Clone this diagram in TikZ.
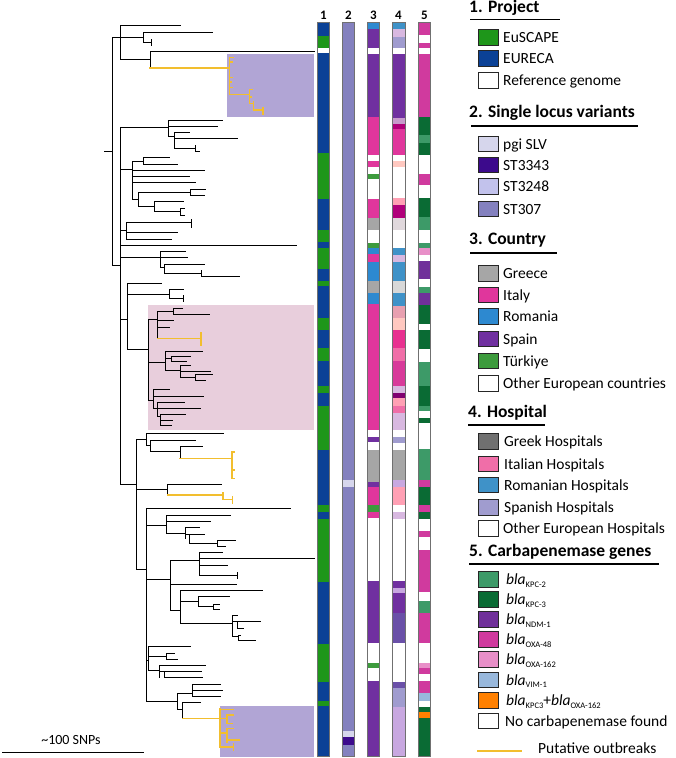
\documentclass[tikz,border=0pt]{standalone}
\usepackage{fontspec}
\setmainfont{Carlito}
\definecolor{pgreen}{HTML}{1E961A}
\definecolor{pblue}{HTML}{0B4196}
\definecolor{st307}{HTML}{8481BF}
\definecolor{pgi}{HTML}{D6D6EC}
\definecolor{st3343}{HTML}{3C0A8C}
\definecolor{st3248}{HTML}{C2C2EC}
\definecolor{cgre}{HTML}{A6A6A6}
\definecolor{cita}{HTML}{E0369C}
\definecolor{crom}{HTML}{2D89D0}
\definecolor{cspa}{HTML}{7030A0}
\definecolor{ctur}{HTML}{3D9B3D}
\definecolor{hgre}{HTML}{707070}
\definecolor{hita}{HTML}{F06EA8}
\definecolor{hrom}{HTML}{3F92C8}
\definecolor{hspa}{HTML}{A09CCF}
\definecolor{hlm}{HTML}{D8B8E0}
\definecolor{hmv}{HTML}{C89ACC}
\definecolor{hdm}{HTML}{B0007A}
\definecolor{hpe}{HTML}{FFC8C0}
\definecolor{hpk}{HTML}{FFA0B4}
\definecolor{hvg}{HTML}{E0D8DC}
\definecolor{hlg}{HTML}{D8D8D8}
\definecolor{hdp}{HTML}{E8A0B0}
\definecolor{hbm}{HTML}{E83090}
\definecolor{hmg}{HTML}{D83A9A}
\definecolor{hpm}{HTML}{800070}
\definecolor{hlp}{HTML}{C8A8E0}
\definecolor{hpb}{HTML}{6A50A8}
\definecolor{kpctwo}{HTML}{3D9A68}
\definecolor{kpcthree}{HTML}{0A6B34}
\definecolor{ndm}{HTML}{70309A}
\definecolor{oxa}{HTML}{D03A9E}
\definecolor{oxaot}{HTML}{E88FC8}
\definecolor{vim}{HTML}{98B8DC}
\definecolor{korange}{HTML}{FF8000}
\definecolor{outb}{HTML}{F2BE2E}
\definecolor{pbox}{HTML}{B1A5D5}
\definecolor{kbox}{HTML}{E8CEDC}
\definecolor{sborder}{HTML}{707070}
\newcommand\blagene[1]{\textit{bla}\raisebox{-0.4ex}{\fontsize{8.5}{9}\selectfont #1}}
\tikzset{
  tr/.style={line width=1pt, line cap=rect},
  yl/.style={line width=1.6pt, draw=outb, line cap=rect},
  lbox/.style={draw=black!85, line width=0.8pt, minimum width=20pt, minimum height=15.5pt, inner sep=0pt},
  ltxt/.style={anchor=west, inner sep=0pt, text height=11.3pt, text depth=3.3pt, font=\fontsize{15.5}{18}\selectfont},
  lhead/.style={anchor=west, inner sep=0pt, text height=12pt, text depth=3.8pt, font=\bfseries\fontsize{17.5}{20}\selectfont},
  cnum/.style={inner sep=0pt, font=\bfseries\fontsize{13}{14}\selectfont},
  uline/.style={line width=1.3pt},
  strip/.style={draw=sborder, line width=1pt}
}
\begin{document}
\begin{tikzpicture}[x=1pt,y=-1pt]
\useasboundingbox (0,0) rectangle (675,758);
% highlight boxes
\fill[pbox] (227,54.3) rectangle (314,116.7);
\fill[kbox] (148.3,305) rectangle (314,430);
\fill[pbox] (220,706) rectangle (314,756.7);
% ---------- tree ----------
\draw[tr] (104,151.7)--(112,151.7) (112,37.7)--(112,265.7);
\draw[tr] (112,37.7)--(120,37.7) (120,25.7)--(120,59.3) (120,25.7)--(180,25.7)
 (120,37.7)--(143,37.7) (143,32.3)--(143,42.3) (143,32.3)--(212,32.3) (143,42.3)--(151,42.3) (151,39.3)--(151,45.3)
 (120,59.3)--(150,59.3) (150,51)--(150,67.5) (150,51)--(314,51);
\draw[yl] (150,68)--(229.3,68) (229.3,57.3)--(229.3,94.3) (229.3,57.3)--(233,57.3) (229.3,61.7)--(232,61.7)
 (229.3,77.3)--(232,77.3) (229.3,82)--(231.5,82) (229.3,87.3)--(232,87.3) (229.3,94.3)--(249.3,94.3)
 (249.3,89.3)--(249.3,103.3) (249.3,89.3)--(252,89.3) (249.3,97)--(251.5,97) (249.3,103.3)--(253.3,103.3)
 (253.3,101.7)--(253.3,110) (253.3,110)--(262.7,110) (262.7,107.3)--(262.7,114);
% main node
\draw[tr] (112,265.7)--(120,265.7) (120,127.7)--(120,484.3);
% clade A
\draw[tr] (120,127.7)--(168.3,127.7) (168.3,120)--(168.3,136.7) (168.3,120)--(222.3,120) (168.3,126.7)--(217.3,126.7)
 (168.3,136.7)--(174,136.7) (174,132.7)--(174,148.3) (174,132.7)--(189,132.7) (174,138.7)--(237.7,138.7)
 (174,148.3)--(195,148.3) (195,145.7)--(195,151.7) (195,151.7)--(199.3,151.7);
% clade B
\draw[tr] (120,169)--(132.7,169) (132.7,161)--(132.7,199.3) (132.7,161)--(143.3,161) (143.3,157.7)--(143.3,164)
 (143.3,157.7)--(169,157.7) (143.3,164)--(177.7,164)
 (132.7,170)--(204,170) (132.7,176.7)--(189.3,176.7) (132.7,182.7)--(195.7,182.7)
 (132.7,199.3)--(138.3,199.3) (138.3,192.3)--(138.3,206.7) (138.3,192.3)--(190.7,192.3) (190.7,189.3)--(190.7,195.7)
 (190.7,189.3)--(205.7,189.3) (190.7,195.7)--(204,195.7) (138.3,206.7)--(154.3,206.7) (154.3,201.7)--(154.3,211.7)
 (154.3,201.7)--(183.3,201.7) (154.3,211.7)--(180,211.7) (180,208.3)--(180,215) (180,208.3)--(184,208.3) (180,215)--(184,215);
% clade C
\draw[tr] (120,230)--(126.7,230) (126.7,222.7)--(126.7,239.3) (126.7,222.7)--(191.7,222.7) (191.7,219.3)--(191.7,227.3)
 (126.7,232.7)--(177.7,232.7) (126.7,239.3)--(171,239.3);
\draw[tr] (120,245.7)--(296,245.7);
% clade D
\draw[tr] (120,257.7)--(160,257.7) (160,251.7)--(160,267.7) (160,251.7)--(185.7,251.7) (160,257.7)--(187.3,257.7)
 (160,267.7)--(164.3,267.7) (164.3,264.3)--(164.3,273.3) (164.3,264.3)--(204,264.3) (164.3,273.3)--(201.7,273.3)
 (201.7,270.7)--(201.7,276.7) (201.7,276.7)--(239,276.7);
% clade E
\draw[tr] (120,319.3)--(127.7,319.3) (127.7,283.3)--(127.7,349.3) (127.7,283.3)--(161.7,283.3) (127.7,294.3)--(169,294.3)
 (169,289.3)--(169,298.3) (169,289.3)--(183.3,289.3) (169,298.3)--(183.3,298.3) (183.3,295.3)--(183.3,301.3)
 (127.7,349.3)--(148.3,349.3) (148.3,319.3)--(148.3,400);
% pink clade
\draw[tr] (148.3,319.3)--(157.7,319.3) (157.7,311.7)--(157.7,338.3) (157.7,311.7)--(173.3,311.7) (173.3,308.3)--(173.3,314.3)
 (173.3,308.3)--(182.3,308.3) (173.3,314.3)--(209,314.3) (157.7,320.7)--(173.3,320.7) (157.7,327.3)--(169,327.3);
\draw[yl] (157.7,338.3)--(201,338.3) (201,332.7)--(201,345);
\draw[tr] (148.3,362)--(165,362) (165,351.7)--(165,370) (165,351.7)--(202.3,351.7) (165,358)--(171,358)
 (171,356)--(171,361) (171,356)--(190,356) (171,361)--(186,361) (165,370)--(180,370) (180,365)--(180,377)
 (180,365)--(190,365) (180,371)--(210.7,371) (180,377)--(195,377) (195,374)--(195,380) (195,374)--(212,374) (195,380)--(205,380);
\draw[tr] (148.3,400)--(153.3,400) (153.3,389.3)--(153.3,408) (153.3,389.3)--(169.3,389.3) (153.3,396)--(203.3,396)
 (153.3,408)--(157,408) (157,402.7)--(157,416) (157,402.7)--(184.3,402.7) (157,408.3)--(200,408.3)
 (157,416)--(160.5,416) (160.5,414.3)--(160.5,425) (160.5,414.3)--(185,414.3) (160.5,420.7)--(172.7,420.7) (160.5,425)--(171.7,425);
% clade F
\draw[tr] (120,484.3)--(136.7,484.3) (136.7,439.3)--(136.7,569.3)
 (136.7,439.3)--(146.7,439.3) (146.7,433.3)--(146.7,445) (146.7,433.3)--(223.3,433.3) (146.7,445)--(150.7,445)
 (150.7,440)--(150.7,451.7) (150.7,440)--(195.7,440) (150.7,451.7)--(180,451.7) (180,446)--(180,458.3) (180,446)--(202.3,446)
 (136.7,489.3)--(167.7,489.3) (167.7,484)--(167.7,495) (167.7,484)--(221,484);
\draw[yl] (180,458.3)--(231.7,458.3) (231.7,451.7)--(231.7,478.3) (231.7,451.7)--(234,451.7) (231.7,470)--(234,470) (231.7,478.3)--(234,478.3)
 (167.7,495)--(222.7,495) (222.7,492.7)--(222.7,499.3) (222.7,499.3)--(232.3,499.3) (232.3,496.7)--(232.3,502.7);
\draw[tr] (136.7,569.3)--(146.7,569.3) (146.7,508.3)--(146.7,701) (146.7,508.3)--(290,508.3)
 (146.7,525)--(166,525) (166,515)--(166,533.3) (166,515)--(230,515) (166,521)--(210,521) (166,533.3)--(185.7,533.3)
 (185.7,527.7)--(185.7,538.3) (185.7,527.7)--(199.3,527.7) (185.7,534)--(189,534) (189,534)--(189,543.3) (189,534)--(204,534)
 (189,543.3)--(217.3,543.3) (217.3,540)--(217.3,546) (217.3,540)--(235,540) (217.3,546)--(225,546)
 (146.7,579.3)--(170.7,579.3) (170.7,560)--(170.7,610) (170.7,560)--(199.3,560) (199.3,552.7)--(199.3,575)
 (199.3,552.7)--(222.7,552.7) (199.3,558.3)--(314,558.3) (199.3,565)--(227.3,565) (199.3,575)--(237.3,575) (237.3,572)--(237.3,578)
 (170.7,584)--(236,584) (170.7,610)--(180.7,610) (180.7,590)--(180.7,623.3) (180.7,590)--(262.3,590)
 (180.7,601.7)--(198.3,601.7) (198.3,596.7)--(198.3,606.7) (198.3,596.7)--(229.3,596.7) (198.3,606.7)--(213.3,606.7)
 (213.3,604)--(213.3,609.3) (213.3,604)--(219,604) (213.3,609.3)--(219,609.3)
 (180.7,623.3)--(232.7,623.3) (232.7,615)--(232.7,636.7) (232.7,615)--(237.3,615) (232.7,621.7)--(237.3,621.7)
 (237.3,621.7)--(237.3,628.3) (237.3,621.7)--(260,621.7) (237.3,628.3)--(243.3,628.3) (232.7,636.7)--(238.3,636.7)
 (238.3,635)--(238.3,640) (238.3,635)--(240.7,635) (238.3,640)--(255.7,640)
 (146.7,660)--(148.3,660) (148.3,646.7)--(148.3,670) (148.3,646.7)--(190.7,646.7) (148.3,656)--(166,656)
 (166,653.3)--(166,659.3) (166,653.3)--(174,653.3) (166,659.3)--(177.3,659.3) (148.3,670)--(159.3,670)
 (159.3,665.7)--(159.3,677.7) (159.3,665.7)--(205,665.7) (159.3,671.7)--(164,671.7) (164,671.7)--(164,677.7)
 (164,671.7)--(201,671.7) (164,677.7)--(202.3,677.7)
 (146.7,701)--(177.3,701) (177.3,693.3)--(177.3,709.3) (177.3,693.3)--(192.7,693.3) (192.7,684.3)--(192.7,696.7)
 (192.7,684.3)--(220.7,684.3) (192.7,690.7)--(222.7,690.7) (192.7,696.7)--(220,696.7) (177.3,709.3)--(182.7,709.3)
 (182.7,702.7)--(182.7,718.3) (182.7,702.7)--(200,702.7);
\draw[yl] (182.7,718.3)--(220,718.3) (220,708.3)--(220,746.7) (220,709.3)--(233.3,709.3) (220,718.3)--(226.7,718.3)
 (226.7,715)--(226.7,723.3) (226.7,715)--(233.3,715) (226.7,723.3)--(232,723.3) (220,733)--(226.7,733)
 (226.7,728.3)--(226.7,741.7) (226.7,728.3)--(233,728.3) (226.7,740)--(239.3,740) (220,746.7)--(233.3,746.7) (233.3,743.7)--(233.3,749.7);
% scale bar
\draw[line width=1pt] (2,752.7) -- (144,752.7);
\node[inner sep=0pt, font=\fontsize{14}{16}\selectfont] (scale) at (71,740) {\textasciitilde100 SNPs};
% ---------- strips ----------
\foreach \c/\a/\b in {pblue/22.7/36, pgreen/36/48.3, pblue/53.3/153.3, pgreen/153.3/199.3, pblue/199.3/230, pgreen/230/242.3,
  pblue/242.3/248.3, pgreen/248.3/269, pblue/269/281, pgreen/281/286, pblue/286/318.3, pgreen/318.3/330, pblue/330/348.3,
  pgreen/348.3/361, pblue/361/386, pgreen/386/393.3, pblue/393.3/406, pgreen/406/450, pblue/450/505, pgreen/505/511.7,
  pblue/511.7/519, pgreen/519/581.7, pblue/581.7/644.3, pgreen/644.3/681.7, pblue/681.7/700.7, pgreen/700.7/706, pblue/706/756.7}
  \fill[fill=\c] (317,\a) rectangle (329.7,\b);
\foreach \c/\a/\b in {st307/22.7/480, pgi/480/487.3, st307/487.3/731, pgi/731/736.7, st3343/736.7/745, st307/745/756.7}
  \fill[fill=\c] (342,\a) rectangle (354.7,\b);
\foreach \c/\a/\b in {crom/22.7/29, cspa/29/48.3, cspa/54.3/116.7, cita/116.7/155, cita/160.7/167.3, ctur/174/179.3,
  cita/199.3/217.7, cgre/217.7/230, ctur/243.3/248.3, crom/248.3/254.3, cita/254.3/262.3, crom/262.3/281, cgre/281/292.7,
  crom/292.7/304.3, cita/304.3/430, cspa/437.3/442.3, cgre/450/481.7, cspa/481.7/486.7, cita/486.7/505, ctur/505/511.7,
  cita/511.7/517.7, cspa/581/643.3, ctur/663.3/668.3, cspa/681/756.7}
  \fill[fill=\c] (367,\a) rectangle (379.7,\b);
\foreach \c/\a/\b in {hrom/22.7/29, hlm/29/36.7, hspa/36.7/48.3, cspa/54.3/117.7, hmv/117.7/124.3, hdm/124.3/129.3,
  cita/129.3/155, hpe/161/166.7, hpk/198.3/205, hdm/205/217.7, hvg/217.7/230, hrom/248.3/255, hlm/255/261.7,
  hrom/261.7/281, hlg/281/292.7, hrom/292.7/306, hdp/306/317.7, hpe/317.7/330, hbm/330/348.3, hita/348.3/361,
  hmg/361/386, hlm/386/393.3, hpm/393.3/398.3, hpk/398.3/406, hita/406/412.7, hlm/412.7/430, hspa/436.7/443.3,
  cgre/450/480, hlp/480/486.7, hpk/486.7/505, hlm/511.7/519, cspa/581/587.7, hlp/587.7/593.3, cspa/593.3/613.3,
  hpb/613.3/643.3, hpb/681.7/688.3, hspa/688.3/706.7, hlp/706.7/756.7}
  \fill[fill=\c] (392,\a) rectangle (405,\b);
\foreach \c/\a/\b in {oxa/22.7/35, oxa/42.7/48.3, oxa/54.3/116.7, kpcthree/116.7/135, kpctwo/135/142.7, kpcthree/142.7/155,
  oxa/174/185, kpcthree/198.3/216.7, kpctwo/216.7/230, kpctwo/243.3/248.3, oxaot/248.3/255, ndm/261/279,
  kpctwo/286.7/293.3, ndm/293.3/305, kpcthree/305/324.3, kpcthree/330/349, kpctwo/361.7/386, kpcthree/386/406,
  kpctwo/406/410.7, kpcthree/418.3/423.3, kpctwo/449.3/480, oxa/480/487.3, kpcthree/487.3/505, oxa/505/511.7,
  kpcthree/511.7/519, oxa/530.7/536.7, oxa/550/592.3, kpctwo/601/612.7, oxa/612.7/643.3, oxaot/663.3/668.3,
  oxa/668.3/674.3, oxa/681/693.3, vim/693.3/700.7, kpcthree/706.7/711.7, korange/711.7/718.3, kpcthree/718.3/756.7}
  \fill[fill=\c] (418,\a) rectangle (430.7,\b);
\draw[strip] (317,22.7) rectangle (329.7,756.7);
\draw[strip] (342,22.7) rectangle (354.7,756.7);
\draw[strip] (367,22.7) rectangle (379.7,756.7);
\draw[strip] (392,22.7) rectangle (405,756.7);
\draw[strip] (418,22.7) rectangle (430.7,756.7);
\node[cnum] (n1) at (323.3,15) {1};
\node[cnum] (n2) at (348.3,15) {2};
\node[cnum] (n3) at (373.3,15) {3};
\node[cnum] (n4) at (398.5,15) {4};
\node[cnum] (n5) at (424.3,15) {5};
% ---------- legend ----------
\node[lhead] (h1) at (469,8.6) {1. Project};
\draw[uline] (470,19.5) -- (560,19.5);
\node[lbox, fill=pgreen] (b11) at (488.5,37.5) {};
\node[ltxt] (t11) at (503,38.5) {EuSCAPE};
\node[lbox, fill=pblue] (b12) at (488.5,58.5) {};
\node[ltxt] (t12) at (503,59.5) {EURECA};
\node[lbox, fill=white] (b13) at (488.5,80.5) {};
\node[ltxt] (t13) at (503,81.5) {Reference genome};
\node[lhead] (h2) at (469,113) {2. Single locus variants};
\draw[uline] (471,126) -- (638,126);
\node[lbox, fill=pgi] (b21) at (488.5,144) {};
\node[ltxt] (t21) at (503,145) {pgi SLV};
\node[lbox, fill=st3343] (b22) at (488.5,165) {};
\node[ltxt] (t22) at (503,166) {ST3343};
\node[lbox, fill=st3248] (b23) at (488.5,186.5) {};
\node[ltxt] (t23) at (503,187.5) {ST3248};
\node[lbox, fill=st307] (b24) at (488.5,209) {};
\node[ltxt] (t24) at (503,210) {ST307};
\node[lhead] (h3) at (469,240) {3. Country};
\draw[uline] (470,253) -- (557,253);
\node[lbox, fill=cgre] (b31) at (488,273.5) {};
\node[ltxt] (t31) at (503,274.5) {Greece};
\node[lbox, fill=cita] (b32) at (488,295) {};
\node[ltxt] (t32) at (503,296) {Italy};
\node[lbox, fill=crom] (b33) at (488,316.5) {};
\node[ltxt] (t33) at (503,317.5) {Romania};
\node[lbox, fill=cspa] (b34) at (488,339) {};
\node[ltxt] (t34) at (503,340) {Spain};
\node[lbox, fill=ctur] (b35) at (488,361) {};
\node[ltxt] (t35) at (503,362) {Türkiye};
\node[lbox, fill=white] (b36) at (488,383.5) {};
\node[ltxt] (t36) at (503,384.5) {Other European countries};
\node[lhead] (h4) at (468,413) {4. Hospital};
\draw[uline] (468,425) -- (545,425);
\node[lbox, fill=hgre] (b41) at (488.5,441.5) {};
\node[ltxt] (t41) at (504,442.5) {Greek Hospitals};
\node[lbox, fill=hita] (b42) at (488.5,464) {};
\node[ltxt] (t42) at (504,465) {Italian Hospitals};
\node[lbox, fill=hrom] (b43) at (488.5,485) {};
\node[ltxt] (t43) at (504,486) {Romanian Hospitals};
\node[lbox, fill=hspa] (b44) at (488.5,507.5) {};
\node[ltxt] (t44) at (504,508.5) {Spanish Hospitals};
\node[lbox, fill=white] (b45) at (488.5,528.5) {};
\node[ltxt] (t45) at (503,529.5) {Other European Hospitals};
\node[lhead] (h5) at (469,552) {5. Carbapenemase genes};
\draw[uline] (469,564) -- (659,564);
\node[lbox, fill=kpctwo] (b51) at (488,579.5) {};
\node[ltxt] (t51) at (506,580.5) {\blagene{KPC-2}};
\node[lbox, fill=kpcthree] (b52) at (488,599.5) {};
\node[ltxt] (t52) at (506,600.5) {\blagene{KPC-3}};
\node[lbox, fill=ndm] (b53) at (488,619.5) {};
\node[ltxt] (t53) at (506,620.5) {\blagene{NDM-1}};
\node[lbox, fill=oxa] (b54) at (488,639.5) {};
\node[ltxt] (t54) at (506,640.5) {\blagene{OXA-48}};
\node[lbox, fill=oxaot] (b55) at (488,659.5) {};
\node[ltxt] (t55) at (506,660.5) {\blagene{OXA-162}};
\node[lbox, fill=vim] (b56) at (488,680) {};
\node[ltxt] (t56) at (506,681) {\blagene{VIM-1}};
\node[lbox, fill=korange] (b57) at (488,700.5) {};
\node[ltxt] (t57) at (506,701.5) {\blagene{KPC3}+\blagene{OXA-162}};
\node[lbox, fill=white] (b58) at (488,721) {};
\node[ltxt] (t58) at (505,722) {No carbapenemase found};
\coordinate (o1) at (477,751);
\coordinate (o2) at (522,751);
\draw[outb, line width=2pt] (o1) -- (o2);
\node[ltxt] (t59) at (538,749) {Putative outbreaks};
\end{tikzpicture}
\end{document}
